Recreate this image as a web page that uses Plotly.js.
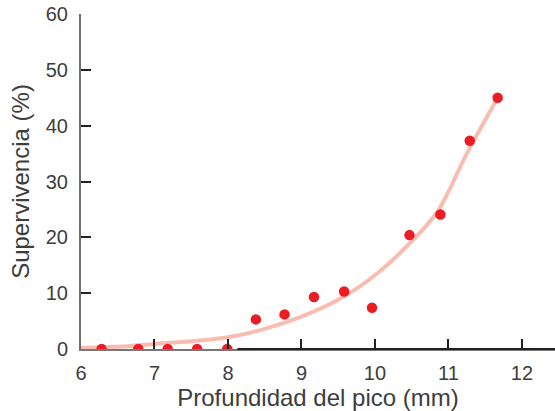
<!DOCTYPE html>
<html><head><meta charset="utf-8">
<script src="https://cdn.plot.ly/plotly-3.0.1.min.js"></script>
<style>html,body{margin:0;padding:0;background:#fff}#chart{width:555px;height:411px}</style>
</head><body><div id="chart"></div>
<script>
const depth = [6.28, 6.78, 7.18, 7.58, 7.99, 8.38, 8.77, 9.17, 9.58, 9.96, 10.47, 10.89, 11.29, 11.67];
const survival = [0, 0, 0, 0, 0, 5.3, 6.2, 9.3, 10.3, 7.4, 20.4, 24.1, 37.3, 45.0];
const curveDepth = [6.0, 6.5, 7.0, 7.5, 8.0, 8.5, 9.0, 9.5, 10.0, 10.5, 10.85, 11.25, 11.67];
const curveSurvival = [0.2, 0.4, 0.9, 1.4, 2.1, 3.6, 5.8, 8.8, 13.2, 19.3, 24.6, 35.0, 45.0];
const xTicks = [6, 7, 8, 9, 10, 11, 12];
const yTicks = [0, 10, 20, 30, 40, 50, 60];
const xTitle = 'Profundidad del pico (mm)';
const yTitle = 'Supervivencia (%)';

const traces = [
  {x: curveDepth, y: curveSurvival, type: 'scatter', mode: 'lines',
   line: {color: '#f8bdb1', width: 4, shape: 'spline', smoothing: 1}, hoverinfo: 'skip'},
  {x: depth, y: survival, type: 'scatter', mode: 'markers',
   marker: {color: '#ec1c24', size: 10.5}}
];

const layout = {
  width: 555, height: 411,
  margin: {l: 81, r: 0, t: 14, b: 62},
  paper_bgcolor: '#fff', plot_bgcolor: '#fff',
  showlegend: false,
  font: {family: '"Liberation Sans", Arial, sans-serif', size: 20, color: '#3d3d3d'},
  xaxis: {
    range: [6, 12.45], tickvals: xTicks, ticktext: xTicks.map(String),
    ticks: 'inside', ticklen: 10, tickwidth: 2, tickcolor: '#222',
    showline: true, linecolor: '#777', linewidth: 1.5,
    showgrid: false, zeroline: false, ticklabelstandoff: 5,
    title: {text: xTitle, standoff: 9}
  },
  yaxis: {
    range: [0, 60], tickvals: yTicks, ticktext: yTicks.map(String),
    ticks: 'inside', ticklen: 10, tickwidth: 2, tickcolor: '#222',
    showline: true, linecolor: '#6e6e6e', linewidth: 2,
    showgrid: false, zeroline: false, ticklabelstandoff: 7,
    title: {text: yTitle, standoff: 9}
  },
  shapes: [
    {type: 'line', xref: 'paper', yref: 'paper', x0: 0.33, x1: 1, y0: 0, y1: 0,
     line: {color: '#222', width: 2}, layer: 'above'}
  ]
};
Plotly.newPlot('chart', traces, layout, {displayModeBar: false, staticPlot: true});
</script></body></html>
